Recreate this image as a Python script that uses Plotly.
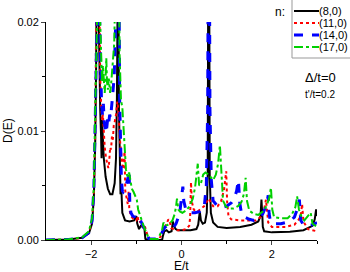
import plotly.graph_objects as go

# ---- data ----
E_80 = [-3.0, -2.5, -2.2, -2.05, -1.98, -1.94, -1.91, -1.89, -1.87, -1.85, -1.83, -1.80, -1.78, -1.77, -1.76,
        -1.75, -1.72, -1.68, -1.63, -1.58, -1.53, -1.48, -1.45, -1.43, -1.415, -1.40, -1.385, -1.37, -1.35,
        -1.33, -1.31, -1.25, -1.15, -1.05, -1.0, -0.98, -0.94, -0.90, -0.86, -0.82, -0.80, -0.75, -0.43,
        -0.41, -0.38, -0.33, -0.28, -0.22, -0.19, -0.17, -0.13, -0.08, 0.0, 0.2, 0.33, 0.37, 0.405, 0.43,
        0.47, 0.52, 0.56, 0.58, 0.595, 0.61, 0.625, 0.65, 0.7, 0.8, 1.0, 1.3, 1.55, 1.7, 1.75, 1.77, 1.79,
        1.8, 1.83, 2.0, 2.4, 2.7, 2.9, 2.95, 2.98, 3.0]
D_80 = [0.0, 0.00005, 0.0002, 0.0006, 0.0015, 0.004, 0.009, 0.016, 0.03, 0.03, 0.018, 0.012, 0.0095, 0.0075, 0.011,
        0.0095, 0.0075, 0.0058, 0.0047, 0.0042, 0.0042, 0.0052, 0.0075, 0.013, 0.03, 0.03, 0.012, 0.007, 0.0042,
        0.0045, 0.0025, 0.0018, 0.0017, 0.0018, 0.0022, 0.0015, 0.0010, 0.0013, 0.0012, 0.0010, 0.0001, 0.0, 0.0,
        0.0004, 0.0008, 0.0009, 0.0007, 0.0008, 0.0017, 0.0013, 0.0010, 0.0009, 0.0009, 0.0009, 0.0010, 0.0014, 0.0026, 0.0018,
        0.0015, 0.0016, 0.0025, 0.006, 0.03, 0.03, 0.006, 0.0025, 0.0016, 0.0012, 0.0011, 0.0012, 0.0014, 0.0017, 0.0022, 0.0037, 0.0022,
        0.0012, 0.0008, 0.0007, 0.00075, 0.0009, 0.0013, 0.0019, 0.0028, 0.0022]

E_110 = [-3.0, -2.5, -2.2, -2.05, -1.98, -1.94, -1.91, -1.89, -1.87, -1.84, -1.82, -1.80, -1.78, -1.76, -1.74,
         -1.72, -1.70, -1.67, -1.64, -1.62, -1.60, -1.58, -1.56, -1.54, -1.52, -1.50, -1.47, -1.45, -1.42, -1.40,
         -1.37, -1.33, -1.30, -1.28, -1.26, -1.245, -1.22, -1.19, -1.17, -1.155, -1.12, -1.06, -1.0, -0.97, -0.95,
         -0.9, -0.86, -0.82, -0.78, -0.74, -0.7, -0.5, -0.45, -0.41, -0.37, -0.33, -0.29, -0.26, -0.23, -0.18,
         -0.1, 0.0, 0.1, 0.17, 0.19, 0.21, 0.23, 0.27, 0.32, 0.38, 0.44, 0.5, 0.56, 0.6, 0.63, 0.7, 0.8, 0.88,
         0.94, 0.99, 1.01, 1.04, 1.1, 1.3, 1.5, 1.65, 1.75, 1.82, 1.87, 1.89, 1.92, 2.0, 2.3, 2.5, 2.6, 2.65,
         2.67, 2.7, 2.8, 2.9, 3.0]
D_110 = [0.0, 0.00005, 0.0002, 0.0007, 0.0017, 0.0045, 0.010, 0.018, 0.03, 0.03, 0.020, 0.015, 0.0125, 0.011, 0.0115,
         0.0095, 0.0085, 0.0075, 0.0068, 0.0066, 0.0072, 0.0085, 0.0083, 0.0095, 0.0092, 0.0105, 0.0110, 0.0115, 0.0127, 0.0120,
         0.0095, 0.0075, 0.0065, 0.0072, 0.0081, 0.0045, 0.0038, 0.0033, 0.0045, 0.0028, 0.0022, 0.0019, 0.0018, 0.0022, 0.0016,
         0.0017, 0.0012, 0.0014, 0.0008, 0.0003, 0.0001, 0.0001, 0.0004, 0.0009, 0.0012, 0.0015, 0.0019, 0.0017, 0.0011, 0.0010,
         0.0009, 0.0009, 0.0010, 0.0013, 0.0020, 0.0053, 0.0035, 0.0028, 0.0026, 0.0027, 0.0029, 0.0031, 0.0035, 0.0038, 0.0036, 0.0031, 0.0031, 0.0036,
         0.0046, 0.0063, 0.0035, 0.0022, 0.0019, 0.0018, 0.0018, 0.0018, 0.0021, 0.0026, 0.0037, 0.0029, 0.0016, 0.0012, 0.0012, 0.0014, 0.0019, 0.0025,
         0.0033, 0.0017, 0.0010, 0.0009, 0.0008]

E_140 = [-3.0, -2.5, -2.2, -2.05, -1.98, -1.94, -1.91, -1.89, -1.87, -1.83, -1.81, -1.79, -1.77, -1.75, -1.73,
         -1.71, -1.69, -1.67, -1.65, -1.63, -1.61, -1.59, -1.57, -1.55, -1.52, -1.49, -1.46, -1.44, -1.42, -1.39,
         -1.37, -1.35, -1.33, -1.31, -1.29, -1.25, -1.21, -1.18, -1.16, -1.145, -1.12, -1.08, -1.03, -0.98, -0.95,
         -0.92, -0.88, -0.84, -0.8, -0.76, -0.72, -0.5, -0.46, -0.42, -0.38, -0.33, -0.28, -0.23, -0.17, -0.12,
         -0.07, -0.03, 0.0, 0.03, 0.05, 0.1, 0.2, 0.3, 0.4, 0.5, 0.55, 0.58, 0.595, 0.615, 0.63, 0.66, 0.7, 0.8,
         0.9, 1.0, 1.1, 1.17, 1.22, 1.26, 1.29, 1.33, 1.4, 1.5, 1.6, 1.7, 1.8, 1.86, 1.9, 1.92, 1.94, 1.97, 2.05,
         2.2, 2.4, 2.5, 2.56, 2.61, 2.64, 2.7, 2.8, 2.9, 3.0]
D_140 = [0.0, 0.00005, 0.0002, 0.0007, 0.0018, 0.0048, 0.011, 0.020, 0.03, 0.03, 0.020, 0.014, 0.0125, 0.0115, 0.0125,
         0.0108, 0.0102, 0.0098, 0.0105, 0.0113, 0.0108, 0.0115, 0.0112, 0.0125, 0.0135, 0.0150, 0.0180, 0.0240, 0.03, 0.03,
         0.013, 0.0085, 0.0055, 0.0045, 0.0044, 0.0046, 0.0052, 0.0058, 0.0064, 0.0035, 0.0025, 0.0022, 0.0021, 0.0019, 0.0017,
         0.0019, 0.0015, 0.0012, 0.0009, 0.0004, 0.0001, 0.0001, 0.0004, 0.0008, 0.0011, 0.0013, 0.0014, 0.0012, 0.0012, 0.0015,
         0.0021, 0.0028, 0.0038, 0.0049, 0.0036, 0.0027, 0.0025, 0.0025, 0.0026, 0.0029, 0.005, 0.012, 0.03, 0.03, 0.012, 0.0055, 0.0036, 0.0031,
         0.0030, 0.0031, 0.0034, 0.0038, 0.0045, 0.0055, 0.0034, 0.0024, 0.0021, 0.0019, 0.0018, 0.0019, 0.0024, 0.0030, 0.0036, 0.0041, 0.0024, 0.0017, 0.0015,
         0.0015, 0.0017, 0.0021, 0.0028, 0.0037, 0.0018, 0.0014, 0.0013, 0.0014, 0.0016]

E_170 = [-3.0, -2.5, -2.2, -2.05, -1.98, -1.94, -1.91, -1.89, -1.87, -1.82, -1.80, -1.78, -1.76, -1.74, -1.72,
         -1.70, -1.68, -1.665, -1.65, -1.63, -1.61, -1.58, -1.56, -1.54, -1.52, -1.49, -1.47, -1.45, -1.40, -1.37,
         -1.34, -1.31, -1.29, -1.27, -1.25, -1.23, -1.21, -1.18, -1.16, -1.13, -1.1, -1.06, -1.02, -0.99, -0.96,
         -0.92, -0.88, -0.84, -0.8, -0.76, -0.72, -0.52, -0.48, -0.43, -0.40, -0.36, -0.3, -0.26, -0.2, -0.15,
         -0.12, -0.1, -0.07, -0.03, 0.02, 0.1, 0.18, 0.25, 0.3, 0.36, 0.39, 0.43, 0.48, 0.53, 0.6, 0.65, 0.7,
         0.76, 0.81, 0.85, 0.88, 0.92, 0.98, 1.05, 1.15, 1.25, 1.33, 1.38, 1.42, 1.45, 1.5, 1.6, 1.7, 1.8, 1.88,
         1.94, 1.98, 2.01, 2.05, 2.2, 2.35, 2.45, 2.52, 2.56, 2.6, 2.66, 2.72, 2.8, 2.86, 2.9, 3.0]
D_170 = [0.0, 0.00006, 0.00025, 0.0008, 0.0020, 0.0050, 0.012, 0.022, 0.03, 0.03, 0.020, 0.016, 0.0145, 0.0160, 0.0140,
         0.0135, 0.0150, 0.0167, 0.0145, 0.0138, 0.0148, 0.0135, 0.0142, 0.0152, 0.0160, 0.0180, 0.0220, 0.03, 0.03, 0.017,
         0.0128, 0.0122, 0.0105, 0.0090, 0.0075, 0.0065, 0.0060, 0.0058, 0.0062, 0.0054, 0.0047, 0.0044, 0.0040, 0.0037, 0.0028,
         0.0022, 0.0018, 0.0013, 0.0009, 0.0004, 0.0001, 0.0001, 0.0004, 0.0009, 0.0016, 0.0013, 0.0014, 0.0015, 0.0018, 0.0024,
         0.0031, 0.0038, 0.0028, 0.0026, 0.0025, 0.0027, 0.0031, 0.0038, 0.0048, 0.0070, 0.0050, 0.0052, 0.0060, 0.0062, 0.0060, 0.0057, 0.0055,
         0.0060, 0.0070, 0.0087, 0.0060, 0.0036, 0.0031, 0.0029, 0.0029, 0.0031, 0.0035, 0.0042, 0.0057, 0.0036, 0.0027, 0.0024, 0.0023, 0.0026, 0.0031,
         0.0038, 0.0048, 0.0028, 0.0021, 0.0020, 0.0020, 0.0024, 0.0030, 0.0040, 0.0028, 0.0021, 0.0018, 0.0022, 0.0025, 0.0015, 0.0012]

series_names = ["(8,0)", "(11,0)", "(14,0)", "(17,0)"]
series_E = [E_80, E_110, E_140, E_170]
series_D = [D_80, D_110, D_140, D_170]
colors = ["#000000", "#ff0000", "#0000ff", "#00d000"]
dashes = ["solid", "dot", "dash", "dashdot"]
widths = [2, 2, 3, 2]

x_ticks = [-2, 0, 2]
y_ticks = [0.0, 0.01, 0.02]
y_tick_labels = ["0.00", "0.01", "0.02"]

FONT = "Liberation Sans, Arial, sans-serif"

fig = go.Figure()
for name, ex, dy, c, d, w in zip(series_names, series_E, series_D, colors, dashes, widths):
    fig.add_trace(go.Scatter(x=ex, y=dy, mode="lines", name=name, showlegend=False,
                             line=dict(color=c, dash=d, width=w)))

# plot-area geometry in pixels
L, R, T, B = 46, 317, 22, 240
W, H = 350, 272


def px(xp):
    return (xp - L) / (R - L)


def py(yp):
    return (B - yp) / (B - T)


shapes = [dict(type="rect", xref="paper", yref="paper", x0=px(292), x1=px(352), y0=py(58), y1=py(-1),
               line=dict(color="#999999", width=1), fillcolor="white", layer="above")]
annotations = []
rows = [11, 23, 35, 47]
for name, c, d, w, ry in zip(series_names, colors, dashes, widths, rows):
    shapes.append(dict(type="line", xref="paper", yref="paper", x0=px(294), x1=px(319), y0=py(ry), y1=py(ry),
                       line=dict(color=c, dash=d, width=w), layer="above"))
    annotations.append(dict(xref="paper", yref="paper", x=px(318), y=py(ry), text=name, showarrow=False,
                            xanchor="left", yanchor="middle", borderpad=0,
                            font=dict(family=FONT, size=11, color="black")))

annotations += [
    dict(xref="paper", yref="paper", x=px(287), y=py(12), text="n:", showarrow=False,
         xanchor="right", yanchor="middle", font=dict(family=FONT, size=12, color="black")),
    dict(xref="paper", yref="paper", x=px(320), y=py(77), text="Δ/t=0", showarrow=False,
         xanchor="center", yanchor="middle", font=dict(family=FONT, size=13, color="black")),
    dict(xref="paper", yref="paper", x=px(320), y=py(94), text="t'/t=0.2", showarrow=False,
         xanchor="center", yanchor="middle", font=dict(family=FONT, size=10, color="black")),
    dict(xref="paper", yref="paper", x=px(8), y=py(131), text="D(E)", showarrow=False, textangle=-90,
         xanchor="center", yanchor="middle", font=dict(family=FONT, size=12, color="black")),
    dict(xref="paper", yref="paper", x=px(181), y=py(266), text="E/t", showarrow=False,
         xanchor="center", yanchor="middle", font=dict(family=FONT, size=12, color="black")),
]

fig.update_layout(
    width=W, height=H,
    margin=dict(l=L, r=W - R, t=T, b=H - B, pad=0),
    plot_bgcolor="white", paper_bgcolor="white",
    font=dict(family=FONT, size=11, color="black"),
    shapes=shapes, annotations=annotations,
    xaxis=dict(range=[-3, 3], tickvals=x_ticks, ticks="outside", ticklen=4, tickwidth=1,
               showline=True, linecolor="black", linewidth=1, showgrid=False, zeroline=False,
               automargin=False,
               minor=dict(tickvals=[-1, 1, 3], ticks="outside", ticklen=3, tickcolor="black"),
               tickfont=dict(size=11)),
    yaxis=dict(range=[0, 0.02], tickvals=y_ticks, ticktext=y_tick_labels, ticks="outside", ticklen=4,
               showline=True, linecolor="black", linewidth=1, showgrid=False, zeroline=False,
               automargin=False,
               minor=dict(tickvals=[0.005, 0.015], ticks="outside", ticklen=3, tickcolor="black"),
               tickfont=dict(size=11)),
)

fig.write_html("out.html", config={"displayModeBar": False},
               post_script="document.body.style.margin='0';document.body.style.overflow='hidden';")
